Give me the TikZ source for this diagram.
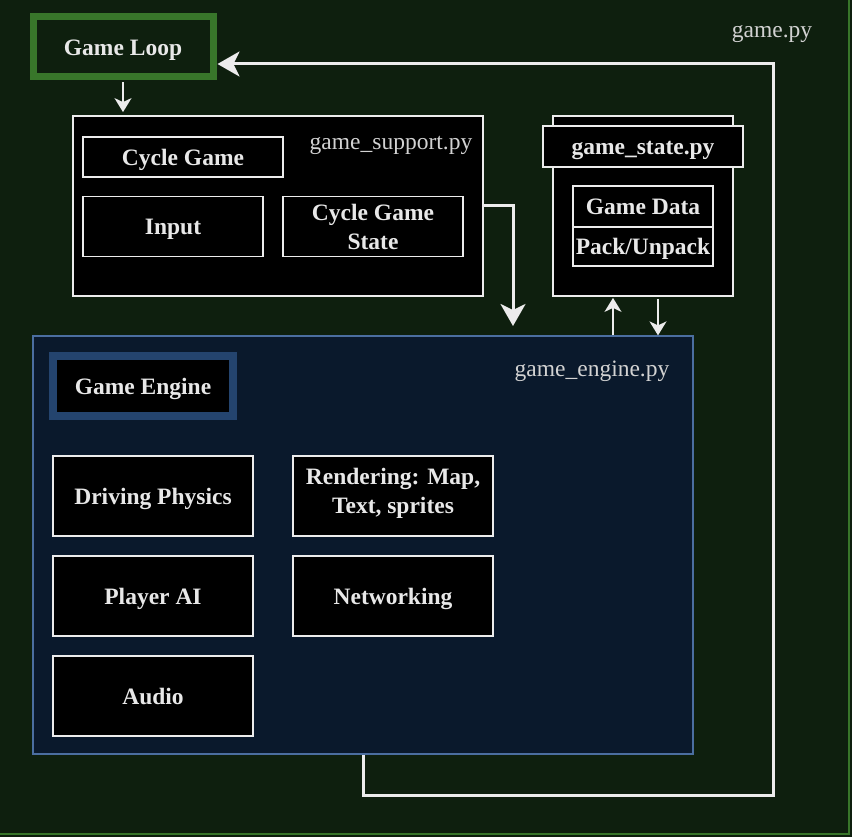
\documentclass[tikz,border=0pt]{standalone}
\usepackage{fontspec}
\setmainfont{Liberation Serif}
\usetikzlibrary{arrows.meta,calc}
\definecolor{bgc}{RGB}{14,31,14}
\definecolor{loopgreen}{RGB}{56,118,42}
\definecolor{engfill}{RGB}{10,25,44}
\definecolor{engline}{RGB}{75,110,160}
\definecolor{gebox}{RGB}{36,68,110}
\definecolor{lineclr}{RGB}{236,236,236}
\definecolor{txt}{RGB}{232,232,232}
\definecolor{lbl}{RGB}{210,210,210}
\tikzset{
  box/.style={draw=lineclr, line width=1.8pt, fill=black, text=txt,
    font=\bfseries\fontsize{23.5}{29}\selectfont, align=center, inner sep=0pt},
  box1/.style={box, text height=17pt, text depth=0pt},
  lbltext/.style={text=lbl, font=\fontsize{23.5}{29}\selectfont, inner sep=0pt, text height=17pt, text depth=0pt},
  thinarr/.style={draw=lineclr, line width=1.8pt, -{Stealth[length=14pt,width=17pt,inset=4pt]}},
  thickarr/.style={draw=lineclr, line width=3pt, -{Stealth[length=22pt,width=25pt,inset=6pt]}},
}
\begin{document}
\begin{tikzpicture}[x=1pt,y=-1pt]
\useasboundingbox (0,0) rectangle (852,837);
\fill[bgc] (0,0) rectangle (852,837);
\draw[loopgreen, line width=2pt] (-2,834) -- (849,834) -- (849,-2);

% game.py label
\node[lbltext] (gamepy) at (772,29.5) {game.py};

% Game loop
\node[box1, draw=loopgreen, line width=7pt, fill=bgc, minimum width=180pt, minimum height=60pt] (gameloop) at (123,47) {Game Loop};

% game_support.py
\node[box, minimum width=410pt, minimum height=180pt] (support) at (278,206) {};
\node[lbltext] (supportlbl) at (391,141.5) {game\_support.py};
\node[box1, minimum width=200pt, minimum height=40pt] (cyclegame) at (183,157) {Cycle Game};
\node[box1, minimum width=180pt, minimum height=60pt] (input) at (173,226.5) {Input};
\node[box, minimum width=180pt, minimum height=60pt] (cgs) at (373,226.5) {Cycle Game\\State};

% game_state.py
\node[box, minimum width=180pt, minimum height=180pt] (state) at (643,206) {};
\node[box1, minimum width=200pt, minimum height=41pt] (statehdr) at (643,146.5) {game\_state.py};
\node[box1, minimum width=140pt, minimum height=41pt] (gamedata) at (643,206.5) {Game Data};
\node[box1, minimum width=140pt, minimum height=39pt] (pack) at (643,246.5) {Pack/Unpack};

% game_engine.py container
\node[draw=engline, line width=1.2pt, fill=engfill, minimum width=660pt, minimum height=418pt, inner sep=0pt] (engine) at (363,545) {};
\node[lbltext] (enginelbl) at (592,367.5) {game\_engine.py};
\node[box1, draw=gebox, line width=8pt, minimum width=180pt, minimum height=60pt] (gameengine) at (143,386) {Game Engine};
\node[box1, minimum width=200pt, minimum height=80pt] (driving) at (153,496) {Driving Physics};
\node[box, text height=40pt, text depth=5.5pt, minimum width=200pt, minimum height=80pt] (render) at (393,496) {Rendering: Map,\\Text, sprites};
\node[box1, minimum width=200pt, minimum height=80pt] (playerai) at (153,596) {Player AI};
\node[box1, minimum width=200pt, minimum height=80pt] (network) at (393,596) {Networking};
\node[box1, minimum width=200pt, minimum height=80pt] (audio) at (153,696) {Audio};

% connectors
\draw[thinarr, shorten <=2pt, shorten >=3pt] (gameloop.south) -- (gameloop.south |- support.north);

\coordinate (supTip) at (513,326);
\draw[thickarr] (support.east) -| (supTip);

\coordinate (stUp) at ([xshift=-30pt]state.south);
\coordinate (stDn) at ([xshift=15pt]state.south);
\draw[thinarr, shorten >=1pt] (engine.north -| stUp) -- (stUp);
\draw[thinarr, shorten <=2pt] (stDn) -- (engine.north -| stDn);

\coordinate (retA) at (363,795);
\coordinate (retB) at (773,64);
\coordinate (glIn) at ([xshift=1pt,yshift=-17pt]gameloop.east);
\draw[thickarr] (engine.south) -- (retA) -| (retB) -- (glIn);
\end{tikzpicture}
\end{document}
